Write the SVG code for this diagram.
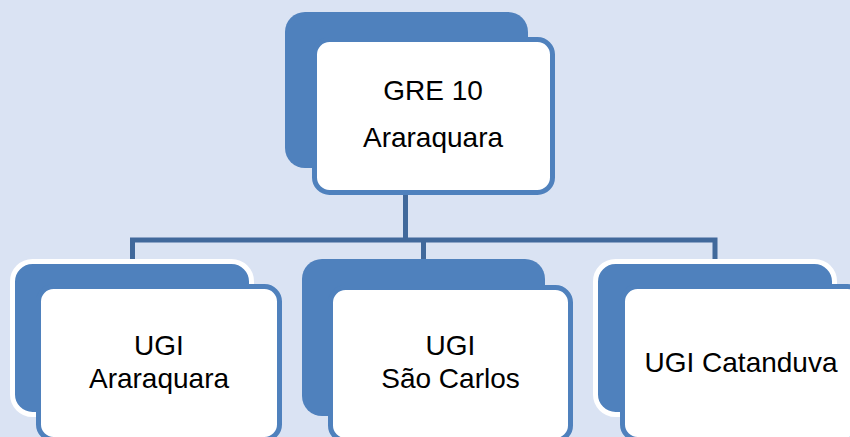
<svg xmlns="http://www.w3.org/2000/svg" width="850" height="437" viewBox="0 0 850 437">
<style>
.bg{fill:#dae3f3}
.back{fill:#4f81bd}
.backw{fill:#4f81bd;stroke:#ffffff;stroke-width:5}
.front{fill:#ffffff;stroke:#4f81bd;stroke-width:5}
.conn{fill:none;stroke:#41699b;stroke-width:5;stroke-linejoin:miter}
text{font-family:"Liberation Sans",Arial,sans-serif;font-size:28px;fill:#000000;text-anchor:middle}
</style>
<rect class="bg" x="0" y="0" width="850" height="437"/>
<g id="connectors">
<path class="conn" d="M405.5 192 V240 M132.5 262 V240 H715 V262 M423.5 240 V262"/>
</g>
<g id="node-gre10">
<rect class="back" x="285" y="12" width="243" height="156" rx="20"/>
<rect class="front" x="314.5" y="39.5" width="238" height="153" rx="15"/>
<text x="433" y="100">GRE 10</text>
<text x="433" y="147">Araraquara</text>
</g>
<g id="node-ugi-araraquara">
<rect class="backw" x="12.5" y="261.5" width="239" height="153" rx="20"/>
<rect class="front" x="38.5" y="286.5" width="241" height="153" rx="15"/>
<text x="159" y="355">UGI</text>
<text x="159" y="388">Araraquara</text>
</g>
<g id="node-ugi-sao-carlos">
<rect class="back" x="302" y="259" width="243" height="157" rx="20"/>
<rect class="front" x="330.5" y="287.5" width="240" height="153" rx="15"/>
<text x="450.5" y="355">UGI</text>
<text x="450.5" y="388">São Carlos</text>
</g>
<g id="node-ugi-catanduva">
<rect class="backw" x="595.5" y="261.5" width="239" height="153" rx="20"/>
<rect class="front" x="622.5" y="286.5" width="240" height="153" rx="15"/>
<text x="741" y="372">UGI Catanduva</text>
</g>
</svg>
